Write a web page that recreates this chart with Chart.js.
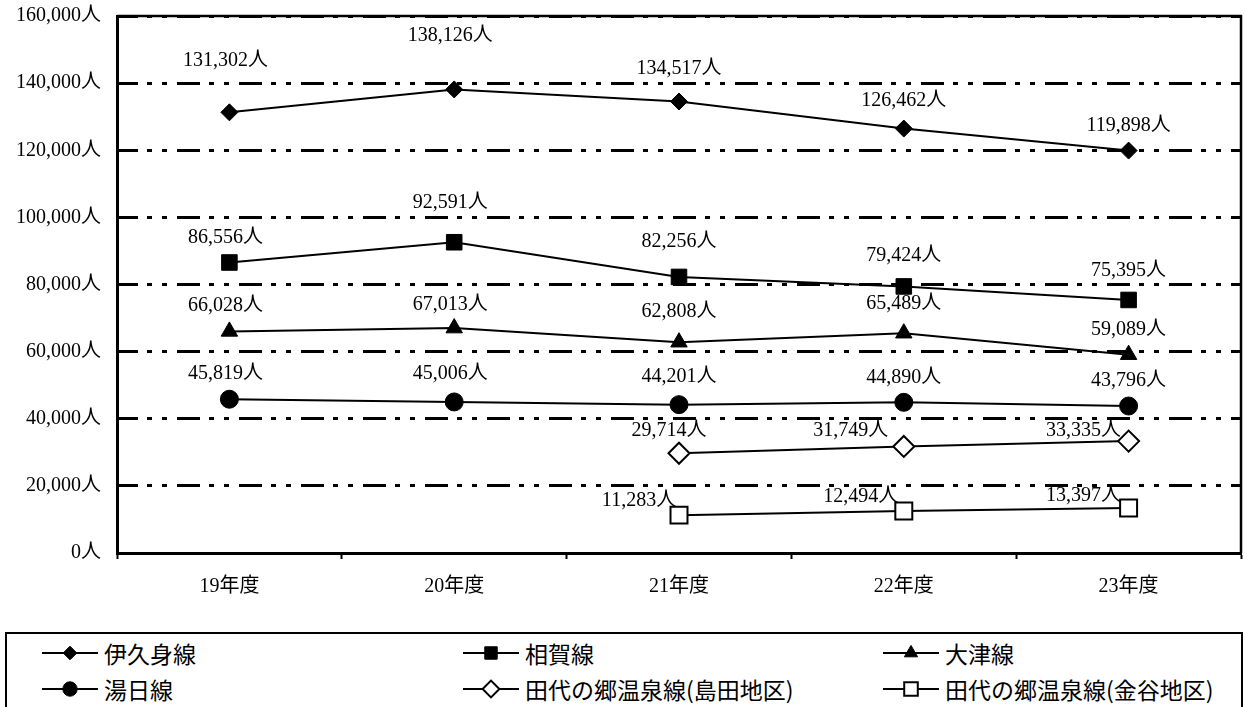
<!DOCTYPE html>
<html>
<head>
<meta charset="utf-8">
<script src="https://cdn.jsdelivr.net/npm/chart.js@4.4.1/dist/chart.umd.min.js"></script>
<style>
body { margin: 0; background: #fff; width: 1245px; height: 707px; overflow: hidden; position: relative; }
#wrap { position: absolute; left: 0; top: 0; width: 1245px; height: 625px; }
#legend { position: absolute; left: 5px; top: 632px; width: 1238px; height: 90px; border: 2px solid #000; box-sizing: border-box;
  font-family: "Noto Sans CJK JP", sans-serif; font-size: 23px; color: #000; }
.item { position: absolute; display: flex; align-items: center; height: 30px; }
.item canvas { margin-right: 6px; }
</style>
</head>
<body>
<div id="wrap"><canvas id="myChart"></canvas></div>
<div id="legend"></div>
<script>
// 年度別 利用者数
var years = ['19年度', '20年度', '21年度', '22年度', '23年度'];
var ikumi   = [131302, 138126, 134517, 126462, 119898];
var aiga    = [86556, 92591, 82256, 79424, 75395];
var otsu    = [66028, 67013, 62808, 65489, 59089];
var yui     = [45819, 45006, 44201, 44890, 43796];
var shimada = [null, null, 29714, 31749, 33335];
var kanaya  = [null, null, 11283, 12494, 13397];

var yMin = 0, yMax = 160000, yStep = 20000;

var numFont = '"Liberation Serif", "Noto Sans CJK JP", serif';

function fmt(v) {
  return v.toLocaleString('en-US') + '人';
}

function series(label, data, style, radius, fill, dx, dy) {
  return {
    label: label,
    data: data,
    borderColor: '#000',
    borderWidth: 2,
    tension: 0,
    pointStyle: style,
    pointRadius: radius,
    pointHoverRadius: radius,
    pointBackgroundColor: fill,
    pointBorderColor: '#000',
    pointBorderWidth: fill === '#fff' ? 2 : 1,
    labelDx: dx,
    labelDy: dy
  };
}

var datasets = [
  series('伊久身線', ikumi, 'rectRot', 8.5, '#000', [-4, -4, 0, 0, 0], [-52, -54, -33, -28, -25]),
  series('相賀線', aiga, 'rect', 11, '#000', [-4, -4, 0, 0, 0], [-25, -39, -35, -31, -29]),
  series('大津線', otsu, 'triangle', 9.5, '#000', [-4, -4, 0, 0, 0], [-26, -23, -30, -29, -25]),
  series('湯日線', yui, 'circle', 9, '#000', [-4, -4, 0, 0, 0], [-25, -28, -28, -25, -25]),
  series('田代の郷温泉線(島田地区)', shimada, 'rectRot', 10.5, '#fff', [0, 0, -10, -53, -45], [0, 0, -23, -16, -10]),
  series('田代の郷温泉線(金谷地区)', kanaya, 'rect', 12, '#fff', [0, 0, -40, -43, -45], [0, 0, -14, -14, -12])
];

var valueLabels = {
  id: 'valueLabels',
  afterDatasetsDraw: function(chart) {
    var ctx = chart.ctx;
    ctx.save();
    ctx.font = '20px ' + numFont;
    ctx.fillStyle = '#000';
    ctx.textAlign = 'center';
    ctx.textBaseline = 'middle';
    chart.data.datasets.forEach(function(ds, i) {
      var meta = chart.getDatasetMeta(i);
      meta.data.forEach(function(pt, j) {
        var v = ds.data[j];
        if (v === null) return;
        ctx.fillText(fmt(v), pt.x + ds.labelDx[j], pt.y + ds.labelDy[j]);
      });
    });
    ctx.restore();
  }
};

var frame = {
  id: 'frame',
  beforeDatasetsDraw: function(chart) {
    var a = chart.chartArea, ctx = chart.ctx;
    ctx.save();
    ctx.strokeStyle = '#000';
    ctx.lineWidth = 2.5;
    ctx.beginPath();
    ctx.moveTo(a.left, a.top);
    ctx.lineTo(a.right, a.top);
    ctx.lineTo(a.right, a.bottom);
    ctx.stroke();
    ctx.restore();
  }
};

var config = {
  type: 'line',
  data: { labels: years, datasets: datasets },
  options: {
    responsive: true,
    maintainAspectRatio: false,
    animation: false,
    layout: { autoPadding: false, padding: { top: 16, right: 4, left: 0, bottom: 0 } },
    plugins: {
      legend: { display: false },
      tooltip: { enabled: false }
    },
    scales: {
      x: {
        offset: true,
        grid: { offset: true, drawOnChartArea: false, drawTicks: true, tickLength: 6, tickColor: '#000', tickWidth: 2 },
        border: { color: '#000', width: 3 },
        ticks: { color: '#000', font: { family: numFont, size: 20 }, padding: 16 },
        afterFit: function(s) { s.height = 72; s.paddingLeft = 0; s.paddingRight = 0; }
      },
      y: {
        min: yMin,
        max: yMax,
        ticks: { stepSize: yStep, color: '#000', font: { family: numFont, size: 20 }, padding: 16,
          callback: function(v) { return fmt(v); } },
        grid: { color: '#000', lineWidth: 3, drawTicks: false },
        border: { color: '#000', width: 3, dash: [23, 9, 5, 10, 5, 10], dashOffset: 4 },
        afterFit: function(s) { s.width = 117; s.paddingTop = 0; s.paddingBottom = 0; }
      }
    }
  },
  plugins: [valueLabels, frame]
};

var ctx = document.getElementById('myChart').getContext('2d');
var chart = new Chart(ctx, config);

// legend box, 3 columns x 2 rows
var legend = document.getElementById('legend');
var colX = [35, 456, 876];
var rowY = [19, 55];
datasets.forEach(function(ds, i) {
  var item = document.createElement('div');
  item.className = 'item';
  item.style.left = colX[i % 3] + 'px';
  item.style.top = (rowY[Math.floor(i / 3)] - 15) + 'px';
  var c = document.createElement('canvas');
  c.width = 56; c.height = 30;
  var g = c.getContext('2d');
  g.strokeStyle = '#000';
  g.lineWidth = 2;
  g.beginPath(); g.moveTo(0, 15); g.lineTo(56, 15); g.stroke();
  g.fillStyle = ds.pointBackgroundColor;
  g.strokeStyle = '#000';
  g.lineWidth = ds.pointBorderWidth;
  Chart.helpers.drawPoint(g, { pointStyle: ds.pointStyle, radius: ds.pointRadius * 0.8, borderWidth: ds.pointBorderWidth, rotation: 0 }, 28, 15);
  item.appendChild(c);
  var t = document.createElement('span');
  t.textContent = ds.label;
  item.appendChild(t);
  legend.appendChild(item);
});
</script>
</body>
</html>
